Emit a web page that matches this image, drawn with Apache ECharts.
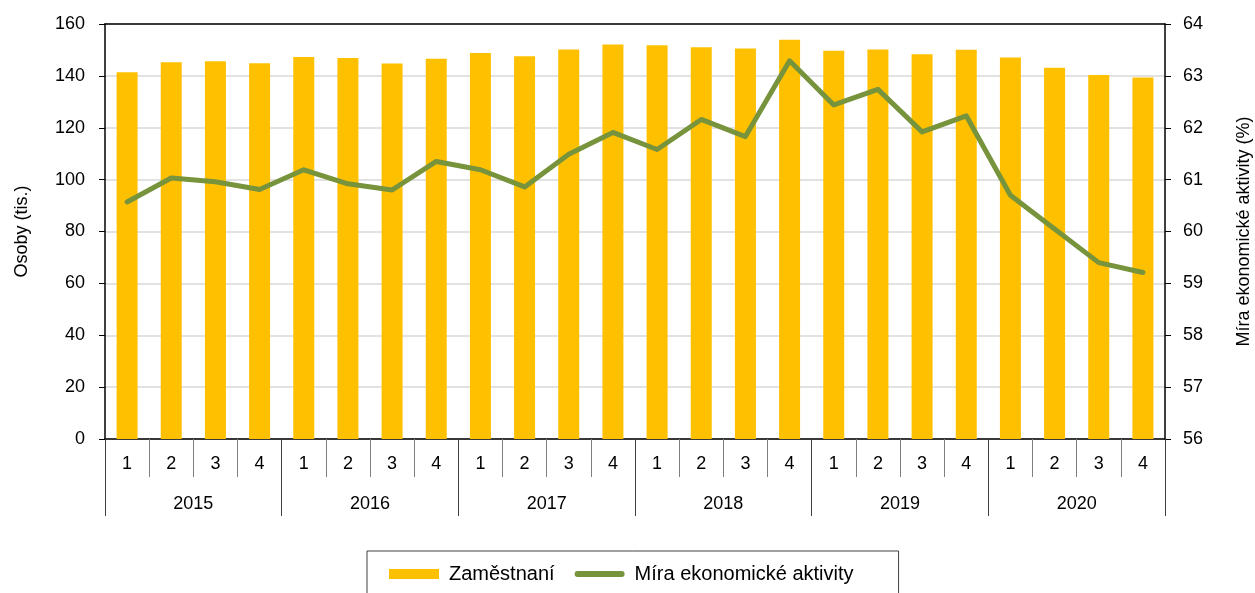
<!DOCTYPE html>
<html>
<head>
<meta charset="utf-8">
<title>Zaměstnaní a míra ekonomické aktivity</title>
<script src="https://cdn.jsdelivr.net/npm/echarts@6/dist/echarts.min.js"></script>
<style>
  html, body { margin: 0; padding: 0; background: #fff; }
  #chart { width: 1255px; height: 593px; }
</style>
</head>
<body>
<div id="chart"></div>
<script>
// ctvrtleti a roky na ose x
const quarters = ['1', '2', '3', '4', '1', '2', '3', '4', '1', '2', '3', '4',
  '1', '2', '3', '4', '1', '2', '3', '4', '1', '2', '3', '4']
const years = ['2015', '2016', '2017', '2018', '2019', '2020']

// Zaměstnaní (tis. osob)
const employed = [141.4, 145.3, 145.6, 144.9, 147.3, 146.9, 144.8, 146.6,
  148.8, 147.6, 150.2, 152.1, 151.8, 151.0, 150.6, 153.9,
  149.7, 150.2, 148.3, 150.1, 147.1, 143.1, 140.3, 139.4]

// Míra ekonomické aktivity (%)
const activityRate = [60.57, 61.03, 60.96, 60.81, 61.19, 60.92, 60.80, 61.35,
  61.19, 60.86, 61.49, 61.91, 61.58, 62.16, 61.83, 63.29,
  62.44, 62.74, 61.92, 62.23, 60.70, 60.05, 59.40, 59.21]

const font = 'Liberation Sans, Arial, sans-serif'
const chart = echarts.init(document.getElementById('chart'))

// zaoblena cara do legendy
const lineIcon = 'path://M3,0 L47,0 A3,3 0 0 1 47,6 L3,6 A3,3 0 0 1 3,0 Z'

const option = {
  animation: false,
  textStyle: { fontFamily: font },
  grid: { left: 105, right: 90, top: 24, bottom: 154, outerBoundsMode: 'none' },
  legend: {
    left: 367,
    top: 551,
    padding: [13, 45, 30, 22],
    borderColor: '#404040',
    borderWidth: 1,
    itemWidth: 50,
    itemHeight: 10,
    itemGap: 20,
    textStyle: { fontSize: 20, color: '#000', fontFamily: font, padding: [0, 0, 0, 5] },
    data: [
      { name: 'Zaměstnaní', icon: 'rect' },
      { name: 'Míra ekonomické aktivity', icon: lineIcon, itemStyle: { color: '#77933C' } }
    ]
  },
  xAxis: [
    {
      type: 'category',
      data: quarters,
      position: 'bottom',
      axisLine: { lineStyle: { color: '#000', width: 1.5 } },
      axisTick: { show: true, interval: 0, length: 38, lineStyle: { color: '#7f7f7f' } },
      axisLabel: { interval: 0, margin: 16, fontSize: 18, color: '#000' }
    },
    {
      type: 'category',
      data: years,
      position: 'bottom',
      axisLine: { show: false },
      axisTick: { show: true, interval: 0, length: 77, lineStyle: { color: '#404040' } },
      axisLabel: { interval: 0, margin: 56, fontSize: 18, color: '#000' }
    },
    {
      type: 'category',
      data: years,
      position: 'top',
      axisLine: { lineStyle: { color: '#000', width: 1.5 } },
      axisTick: { show: false },
      axisLabel: { show: false }
    }
  ],
  yAxis: [
    {
      type: 'value',
      min: 0,
      max: 160,
      interval: 20,
      name: 'Osoby (tis.)',
      nameLocation: 'middle',
      nameRotate: 90,
      nameGap: 74,
      nameTextStyle: { fontSize: 18, color: '#000' },
      axisLine: { show: true, lineStyle: { color: '#000', width: 1.5 } },
      axisTick: { show: true, length: 6, lineStyle: { color: '#000' } },
      axisLabel: { fontSize: 18, color: '#000', margin: 20 },
      splitLine: { lineStyle: { color: '#d9d9d9', width: 1.5 } }
    },
    {
      type: 'value',
      min: 56,
      max: 64,
      interval: 1,
      position: 'right',
      name: 'Míra ekonomické aktivity (%)',
      nameLocation: 'middle',
      nameRotate: 90,
      nameGap: 70,
      nameTextStyle: { fontSize: 18, color: '#000' },
      axisLine: { show: true, lineStyle: { color: '#000', width: 1.5 } },
      axisTick: { show: true, length: 6, lineStyle: { color: '#000' } },
      axisLabel: { fontSize: 18, color: '#000', margin: 18 },
      splitLine: { show: false }
    }
  ],
  series: [
    {
      name: 'Zaměstnaní',
      type: 'bar',
      xAxisIndex: 0,
      yAxisIndex: 0,
      barWidth: 21,
      itemStyle: { color: '#FFC000' },
      data: employed
    },
    {
      name: 'Míra ekonomické aktivity',
      type: 'line',
      xAxisIndex: 0,
      yAxisIndex: 1,
      symbol: 'none',
      lineStyle: { color: '#77933C', width: 5, cap: 'round', join: 'round' },
      itemStyle: { color: '#77933C' },
      data: activityRate
    }
  ]
}

chart.setOption(option)
</script>
</body>
</html>
